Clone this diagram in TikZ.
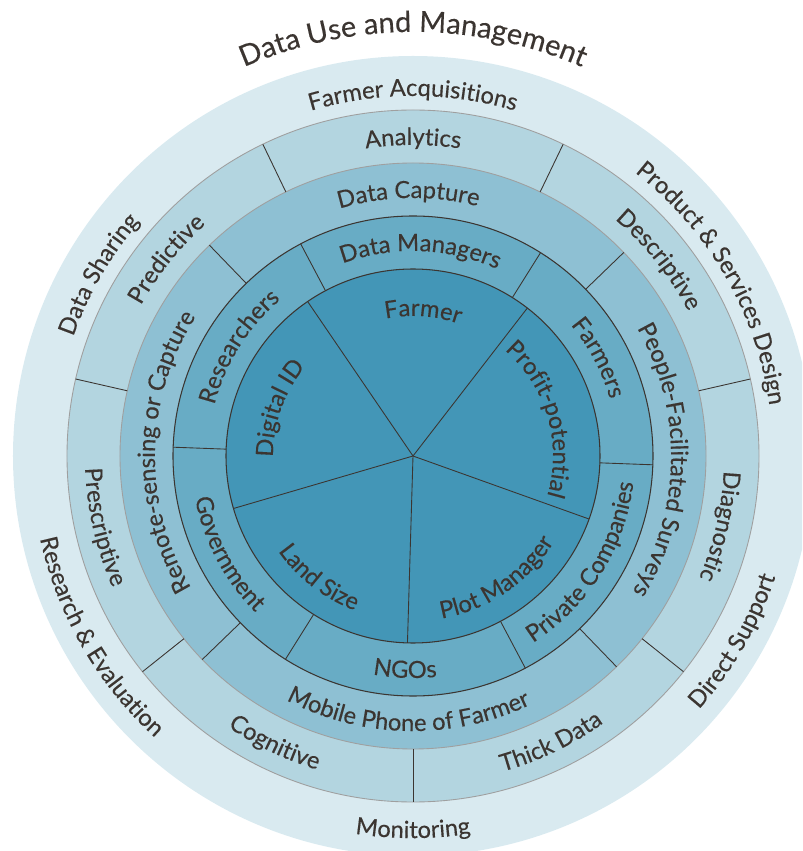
\documentclass[tikz,border=0pt]{standalone}
\usepackage{fontspec}
\setmainfont{Lato}[FakeBold=0.3]
\usetikzlibrary{decorations.text}

\definecolor{ringA}{HTML}{D9EAF0}
\definecolor{ringB}{HTML}{B3D5E0}
\definecolor{ringC}{HTML}{8EC0D3}
\definecolor{ringD}{HTML}{68ACC5}
\definecolor{core}{HTML}{4396B7}
\definecolor{ink}{HTML}{3B3531}

\begin{document}
\fontsize{13.5}{16}\selectfont
\begin{tikzpicture}[x=0.02cm, y=0.02cm,
    rim/.style={draw=gray!75, line width=0.5pt},
    darkrim/.style={draw=ink, line width=0.6pt},
    divider/.style={draw=ink, line width=0.5pt},
    arctext/.style={decorate, decoration={text along path, text align=center, text color=ink, text/.expanded=#1}},
    plaintext/.style={decorate, decoration={text along path, text align=center, text color=ink, text={#1}}}]

    \useasboundingbox (-413,-395) rectangle (389,456);
    \clip (-413,-395) rectangle (389,456);
    \coordinate (O) at (0,0);

    % rings
    \fill[ringA] (O) circle[radius=400];
    \filldraw[ringB, rim] (O) circle[radius=346];
    \filldraw[ringC, rim] (O) circle[radius=293];
    \filldraw[ringD, darkrim] (O) circle[radius=240];
    \filldraw[core, darkrim] (O) circle[radius=187];

    % dividers
    \foreach \k in {0,...,6} {
        \draw[divider] ({270+\k*360/7}:293) -- ({270+\k*360/7}:346);};
    \foreach \k in {0,...,3} {
        \draw[divider] ({44+\k*90}:240) -- ({44+\k*90}:293);};
    \foreach \k in {0,...,5} {
        \draw[divider] ({57.9+\k*60}:187) -- ({57.9+\k*60}:240);};
    \foreach \k in {0,...,4} {
        \draw[divider] (O) -- ({52.3+\k*72}:187);};

    % labels read clockwise (tops outward)
    \foreach \a/\r/\t in {90/360/Farmer Acquisitions, 150/360/Data Sharing,
        90/311/Analytics, 38.6/311/Descriptive, 141.4/311/Predictive, -12.9/311/Diagnostic,
        91/258/Data Capture, 179/258/Remote-sensing or Capture, -1/258/People-Facilitated Surveys,
        87.9/205/Data Managers, 27.9/205/Farmers, 147.9/205/Researchers,
        86/140/Farmer, 16.3/140/Profit-potential, 160.3/140/Digital ID} {
        \path[arctext=\t] ({\a+75}:\r) arc[start angle=\a+75, end angle=\a-75, radius=\r];};
    \path[plaintext={Product {\&} Services Design}] (100:360) arc[start angle=100, end angle=-40, radius=360];

    % labels read counterclockwise (tops inward)
    \foreach \a/\r/\t in {270/382/Monitoring, -30/382/Direct Support,
        192.9/328/Prescriptive, 244.3/328/Cognitive, 295.7/328/Thick Data,
        269/275/Mobile Phone of Farmer,
        -32.1/222/Private Companies, 267.9/222/NGOs, 207.9/222/Government,
        304.3/165/Plot Manager, 232.3/165/Land Size} {
        \path[arctext=\t] ({\a-75}:\r) arc[start angle=\a-75, end angle=\a+75, radius=\r];};
    \path[plaintext={Research {\&} Evaluation}] (140:382) arc[start angle=140, end angle=280, radius=382];

    % title
    \path[plaintext={|\fontsize{16.5}{20}\selectfont|Data Use and Management}] (150:424) arc[start angle=150, end angle=30, radius=424];

\end{tikzpicture}
\end{document}
